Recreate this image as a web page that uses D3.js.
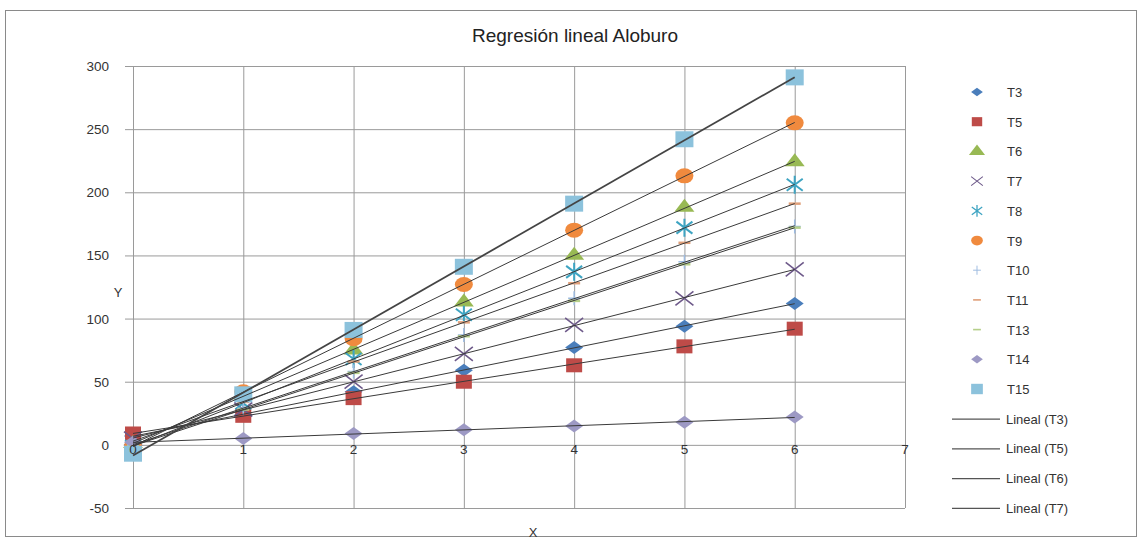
<!DOCTYPE html>
<html>
<head>
<meta charset="utf-8">
<script src="https://cdn.jsdelivr.net/npm/d3@7"></script>
<style>
  body { margin: 0; background: #fff; }
  text { font-family: "Liberation Sans", Arial, sans-serif; fill: #333; }
</style>
</head>
<body>
<div id="chart"></div>
<script>
// x values and series
var xs = [0, 1, 2, 3, 4, 5, 6];
var T3  = [7, 24, 42, 59, 77, 94, 112];
var T5  = [9, 23, 37, 50, 63, 78, 92];
var T6  = [1, 39, 75, 113, 150, 188, 224];
var T7  = [5, 28, 50, 72, 95, 116, 139];
var T8  = [-1, 33, 68, 103, 137, 172, 206];
var T9  = [-1, 42, 84, 127, 170, 213, 255];
var T10 = [0, 29, 58, 87, 116, 145, 173];
var T11 = [3, 34, 66, 97, 128, 160, 191];
var T13 = [-1, 28, 57, 86, 114, 143, 172];
var T14 = [2, 5, 9, 12, 15, 18, 22];
var T15 = [-7, 40, 91, 141, 191, 242, 291];
var xTicks = [0, 1, 2, 3, 4, 5, 6, 7];
var yTicks = [-50, 0, 50, 100, 150, 200, 250, 300];

var series = [
  {name: "T3",  values: T3,  color: "#4a7ebb", shape: "diamond"},
  {name: "T5",  values: T5,  color: "#be4b48", shape: "square"},
  {name: "T6",  values: T6,  color: "#98b954", shape: "triangle"},
  {name: "T7",  values: T7,  color: "#6e5a8a", shape: "x"},
  {name: "T8",  values: T8,  color: "#3ea4c2", shape: "star"},
  {name: "T9",  values: T9,  color: "#f08a3e", shape: "circle"},
  {name: "T10", values: T10, color: "#9dbbe0", shape: "plus"},
  {name: "T11", values: T11, color: "#e0a07a", shape: "dash"},
  {name: "T13", values: T13, color: "#b5cf8a", shape: "dash"},
  {name: "T14", values: T14, color: "#9d99c4", shape: "diamond"},
  {name: "T15", values: T15, color: "#8cc2dc", shape: "bigsquare"}
];
var trendNames = ["T3", "T5", "T6", "T7"];

var width = 1143, height = 545;
var svg = d3.select("#chart").append("svg")
  .attr("width", width).attr("height", height);

// outer chart border
svg.append("rect")
  .attr("x", 5.5).attr("y", 10.5).attr("width", 1131).attr("height", 526)
  .attr("fill", "#fff").attr("stroke", "#8a8a8a");

var x = d3.scaleLinear().domain([0, 7]).range([133, 905]);
var y = d3.scaleLinear().domain([-50, 300]).range([508, 66]);

// gridlines
svg.selectAll(".hg").data(yTicks).enter().append("line")
  .attr("x1", 125).attr("x2", x(7))
  .attr("y1", function(d){ return y(d) + 0.5; }).attr("y2", function(d){ return y(d) + 0.5; })
  .attr("stroke", "#9a9a9a").attr("stroke-width", 1);
svg.selectAll(".vg").data(xTicks).enter().append("line")
  .attr("x1", function(d){ return x(d) + 0.5; }).attr("x2", function(d){ return x(d) + 0.5; })
  .attr("y1", y(300)).attr("y2", y(-50))
  .attr("stroke", "#9a9a9a").attr("stroke-width", 1);

svg.selectAll(".yl").data(yTicks).enter().append("text")
  .attr("x", 109).attr("y", function(d){ return y(d) + 5; })
  .attr("text-anchor", "end").style("font-size", "13.5px")
  .text(function(d){ return d; });

svg.append("text").attr("x", 118).attr("y", 297).attr("text-anchor", "middle")
  .style("font-size", "13px").text("Y");
svg.append("text").attr("x", 533).attr("y", 537).attr("text-anchor", "middle")
  .style("font-size", "13px").text("X");
svg.append("text").attr("x", 575).attr("y", 42).attr("text-anchor", "middle")
  .style("font-size", "19px").style("fill", "#222").text("Regresión lineal Aloburo");

// least squares fit for the trendlines
function fit(vals) {
  var mx = d3.mean(xs), my = d3.mean(vals);
  var num = d3.sum(xs, function(v, i){ return (v - mx) * (vals[i] - my); });
  var den = d3.sum(xs, function(v){ return (v - mx) * (v - mx); });
  var b = num / den;
  return {b: b, a: my - b * mx};
}

function drawMarker(g, shape, color, s) {
  s = s || 1;
  if (shape == "diamond") {
    g.append("path").attr("d", "M-9,0L0,-6.5L9,0L0,6.5Z")
      .attr("fill", color).attr("transform", "scale(" + s + ")");
  } else if (shape == "square") {
    g.append("rect").attr("x", -8 * s).attr("y", -7 * s).attr("width", 16 * s).attr("height", 14 * s)
      .attr("fill", color);
  } else if (shape == "bigsquare") {
    g.append("rect").attr("x", -9 * s).attr("y", -8 * s).attr("width", 18 * s).attr("height", 16 * s)
      .attr("fill", color);
  } else if (shape == "triangle") {
    g.append("path").attr("d", d3.symbol(d3.symbolTriangle, 120 * s)())
      .attr("fill", color).attr("transform", "scale(1.2,0.9)");
  } else if (shape == "circle") {
    g.append("ellipse").attr("rx", 9 * s).attr("ry", 7.5 * s).attr("fill", color);
  } else if (shape == "x") {
    g.append("path").attr("d", "M-9,-7L9,7M-9,7L9,-7").attr("stroke", color)
      .attr("stroke-width", 1.6).attr("transform", "scale(" + s + ")");
  } else if (shape == "star") {
    g.append("path").attr("d", "M-8,-6L8,6M-8,6L8,-6M0,-9L0,9").attr("stroke", color)
      .attr("stroke-width", 2).attr("transform", "scale(" + s + ")");
  } else if (shape == "plus") {
    g.append("path").attr("d", "M-6,0L6,0M0,-7L0,7").attr("stroke", color)
      .attr("stroke-width", 1.5).attr("transform", "scale(" + s + ")");
  } else if (shape == "dash") {
    g.append("path").attr("d", "M-6,0L6,0").attr("stroke", color)
      .attr("stroke-width", 2.5).attr("transform", "scale(" + s + ")");
  }
}

// markers
series.forEach(function(sr) {
  svg.append("g").selectAll("g").data(sr.values).enter().append("g")
    .attr("transform", function(d, i){ return "translate(" + x(xs[i]) + "," + y(d) + ")"; })
    .each(function() { drawMarker(d3.select(this), sr.shape, sr.color, 1); });
});

// trendlines on top
series.forEach(function(sr) {
  var f = fit(sr.values);
  var x0 = d3.min(xs), x1 = d3.max(xs);
  svg.append("line")
    .attr("x1", x(x0)).attr("y1", y(f.a + f.b * x0))
    .attr("x2", x(x1)).attr("y2", y(f.a + f.b * x1))
    .attr("stroke", sr.name == "T15" ? "#444" : "#3a3a3a")
    .attr("stroke-width", sr.name == "T15" ? 1.8 : 1);
});

// x tick labels sit on the zero line, drawn over the marks like the original
svg.selectAll(".xl").data(xTicks).enter().append("text")
  .attr("x", function(d){ return x(d); }).attr("y", y(0) + 9)
  .attr("text-anchor", "middle").style("font-size", "13.5px")
  .text(function(d){ return d; });

// legend
var lg = svg.append("g");
var rowH = 29.7, ly0 = 92;
series.forEach(function(sr, i) {
  var g = lg.append("g").attr("transform", "translate(977," + (ly0 + i * rowH) + ")");
  drawMarker(g, sr.shape, sr.color, 0.65);
  g.append("text").attr("x", 30).attr("y", 5).style("font-size", "13px").text(sr.name);
});
trendNames.forEach(function(n, j) {
  var yy = ly0 + (series.length + j) * rowH;
  lg.append("line").attr("x1", 952).attr("x2", 1000).attr("y1", yy + 0.5).attr("y2", yy + 0.5)
    .attr("stroke", "#555").attr("stroke-width", 1.2);
  lg.append("text").attr("x", 1006).attr("y", yy + 5).style("font-size", "13px")
    .text("Lineal (" + n + ")");
});
</script>
</body>
</html>
